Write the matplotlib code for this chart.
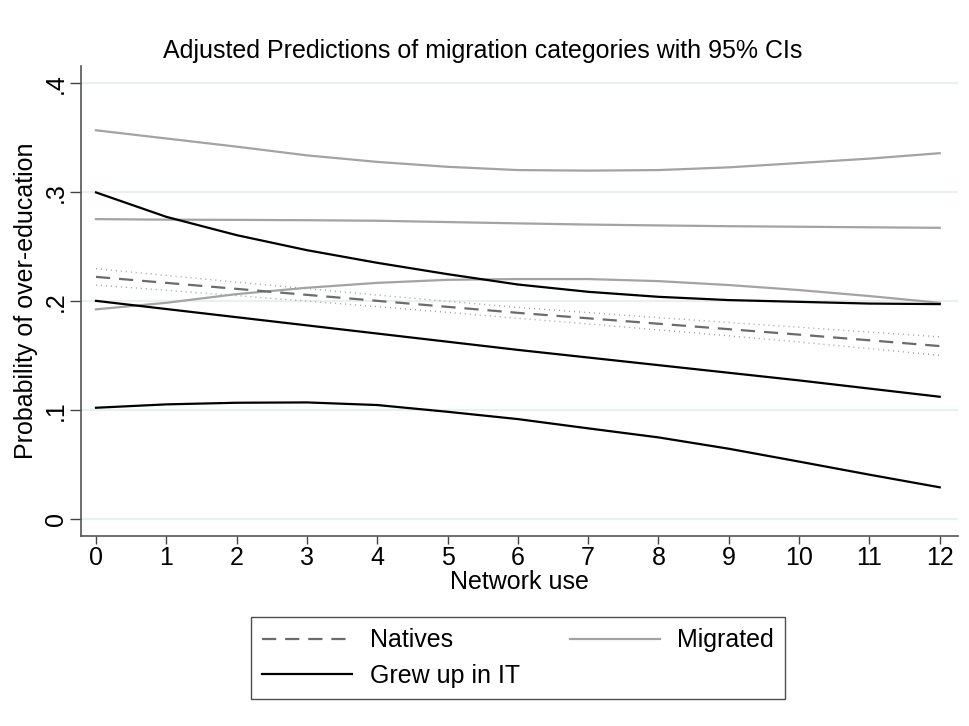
import matplotlib
matplotlib.use("Agg")
import matplotlib.pyplot as plt
from matplotlib.lines import Line2D

plt.rcParams['font.family'] = ['Liberation Sans', 'DejaVu Sans']

network_use = list(range(13))
x_ticks = list(range(13))
y_ticks = [0, 0.1, 0.2, 0.3, 0.4]
y_tick_labels = ["0", ".1", ".2", ".3", ".4"]

natives_mean = [0.2225, 0.217, 0.2115, 0.206, 0.2005, 0.195, 0.1895, 0.1845, 0.1795, 0.1745, 0.1695, 0.1643, 0.159]
natives_half = [0.0075, 0.0068, 0.0062, 0.0057, 0.0053, 0.0051, 0.0050, 0.0052, 0.0056, 0.0061, 0.0068, 0.0076, 0.0085]
natives_lo = [m - h for m, h in zip(natives_mean, natives_half)]
natives_hi = [m + h for m, h in zip(natives_mean, natives_half)]

migrated_mean = [0.2755, 0.275, 0.2748, 0.2745, 0.274, 0.2728, 0.2716, 0.2705, 0.2697, 0.269, 0.2685, 0.268, 0.2675]
migrated_hi = [0.357, 0.3495, 0.342, 0.334, 0.328, 0.3235, 0.3205, 0.320, 0.3205, 0.323, 0.327, 0.331, 0.336]
migrated_lo = [0.1927, 0.1987, 0.2067, 0.2125, 0.217, 0.2198, 0.2205, 0.2205, 0.2186, 0.215, 0.2104, 0.2049, 0.1987]

grew_mean = [0.2005, 0.193, 0.1855, 0.178, 0.1705, 0.163, 0.1555, 0.1485, 0.1415, 0.1345, 0.1275, 0.12, 0.1125]
grew_hi = [0.300, 0.2776, 0.2608, 0.247, 0.2354, 0.225, 0.2155, 0.2088, 0.2042, 0.2012, 0.1996, 0.198, 0.1975]
grew_lo = [0.1024, 0.1055, 0.107, 0.1073, 0.1049, 0.0987, 0.092, 0.0835, 0.0752, 0.0648, 0.053, 0.041, 0.0294]

c_nat = '#6b6b6b'
c_mig = '#a3a3a3'
c_grew = '#000000'

FS = 18

fig = plt.figure(figsize=(9.69, 7.26), dpi=100)
ax = fig.add_axes([81/969, 1-535.7/726, (958-81)/969, (535.7-66)/726])

for yt in y_ticks:
    ax.axhline(yt, color='#e9f0f1', lw=1.6, zorder=0)

dash = (0, (6.4, 4.0))
dot = (0, (0.6, 3.0))
ax.plot(network_use, natives_hi, color='#8a8a8a', lw=1.0, linestyle=dot)
ax.plot(network_use, natives_lo, color='#8a8a8a', lw=1.0, linestyle=dot)
ax.plot(network_use, migrated_hi, color=c_mig, lw=1.6)
ax.plot(network_use, migrated_lo, color=c_mig, lw=1.6)
ax.plot(network_use, migrated_mean, color=c_mig, lw=1.6)
ax.plot(network_use, grew_hi, color=c_grew, lw=1.6)
ax.plot(network_use, grew_lo, color=c_grew, lw=1.6)
ax.plot(network_use, grew_mean, color=c_grew, lw=1.6)
ax.plot(network_use, natives_mean, color=c_nat, lw=1.6, linestyle=dash)

ax.set_xlim(-0.213, 12.26)
ax.set_ylim(-0.015, 0.416)
ax.set_xticks(x_ticks)
ax.set_yticks(y_ticks)
ax.set_yticklabels(y_tick_labels, rotation=90, va='center')
ax.tick_params(axis='both', labelsize=FS, color='#444444', width=1.0, direction='out')
ax.tick_params(axis='x', length=6, pad=1.5)
ax.tick_params(axis='y', length=8, pad=1.5)
for s in ['top', 'right']:
    ax.spines[s].set_visible(False)
for s in ['left', 'bottom']:
    ax.spines[s].set_color('#555555')
    ax.spines[s].set_linewidth(1.2)

ax.set_xlabel("Network use", fontsize=FS, labelpad=0)
ax.set_ylabel("Probability of over-education", fontsize=FS, labelpad=4)
ax.set_title("Adjusted Predictions of migration categories with 95% CIs", fontsize=FS, pad=6,
             x=(482.5-81)/877)

handles = [
    Line2D([], [], color=c_nat, lw=1.6, linestyle=dash),
    Line2D([], [], color=c_grew, lw=1.6),
    Line2D([], [], color=c_mig, lw=1.6),
]
labels = ["Natives", "Grew up in IT", "Migrated"]
leg = fig.legend(handles, labels, ncol=2, loc='center', bbox_to_anchor=(518/969, 1-658/726),
                 fontsize=FS, frameon=True, fancybox=False, edgecolor='#222222',
                 handlelength=3.6, handletextpad=0.7, columnspacing=2.0, borderpad=0.45,
                 labelspacing=0.45)
leg.get_frame().set_linewidth(1.0)

fig.savefig("out.png", dpi=100, facecolor='white')
